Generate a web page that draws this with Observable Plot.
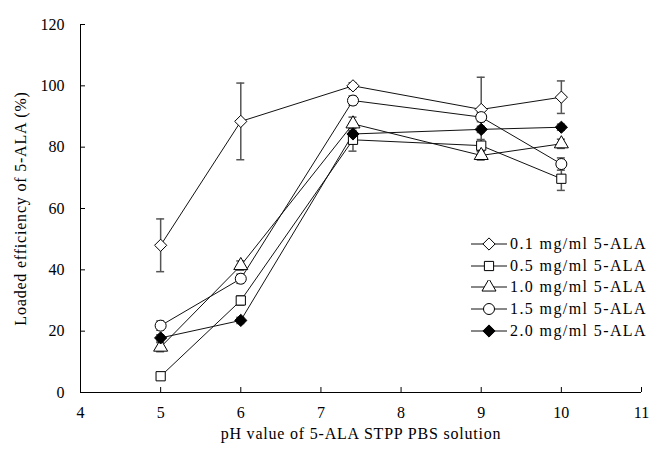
<!DOCTYPE html>
<html>
<head>
<meta charset="utf-8">
<script src="https://cdn.jsdelivr.net/npm/d3@7"></script>
<script src="https://cdn.jsdelivr.net/npm/@observablehq/plot@0.6"></script>
<style>
  html, body { margin: 0; padding: 0; background: #fff; }
  #wrap { position: relative; width: 651px; height: 459px; font-family: "Liberation Serif", serif; }
  #wrap svg text { fill: #000; font-family: "Liberation Serif", serif; }
  g[aria-label="text"] text { letter-spacing: 0.8px; }
  #legend { position: absolute; left: 471px; top: 233px; font-size: 16px; letter-spacing: 1.4px; color: #000; font-family: "Liberation Serif", serif; }
  #legend .row { display: flex; align-items: center; height: 21.7px; white-space: nowrap; }
  #legend svg { display: block; margin-right: 3px; }
</style>
</head>
<body>
<div id="wrap"></div>
<script>
// ---- data ----
const pH = [5, 6, 7.4, 9, 10];
const seriesNames = ["0.1 mg/ml 5-ALA", "0.5 mg/ml 5-ALA", "1.0 mg/ml 5-ALA", "1.5 mg/ml 5-ALA", "2.0 mg/ml 5-ALA"];
const eff01 = [48.0, 88.4, 100.0, 92.3, 96.3];
const err01 = [8.6, 12.5, 1.0, 10.5, 5.3];
const eff05 = [5.3, 30.0, 82.4, 80.5, 69.7];
const err05 = [1.0, 1.5, 3.7, 2.0, 3.8];
const eff10 = [14.8, 41.4, 87.6, 77.3, 81.1];
const err10 = [1.5, 1.5, 2.2, 1.5, 1.5];
const eff15 = [21.8, 37.1, 95.2, 89.8, 74.5];
const err15 = [1.5, 1.5, 1.5, 1.5, 2.0];
const eff20 = [17.8, 23.5, 84.3, 85.8, 86.5];
const err20 = [1.0, 1.0, 1.0, 1.0, 1.0];
const xTicks = [4, 5, 6, 7, 8, 9, 10, 11];
const yTicks = [0, 20, 40, 60, 80, 100, 120];
const xTitle = "pH value of 5-ALA STPP PBS solution";
const yTitle = "Loaded efficiency of 5-ALA (%)";

// styles (not data)
const symbols = ["diamond2", "square", "triangle", "circle", "diamond2"];
const fills = ["white", "white", "white", "white", "black"];
const symR = [5.5, 5.2, 5.2, 5.5, 5.5];

const effs = [eff01, eff05, eff10, eff15, eff20];
const errs = [err01, err05, err10, err15, err20];
const rows = [];
seriesNames.forEach((s, i) => pH.forEach((x, j) => rows.push({
  series: s, idx: i, x, y: effs[i][j], lo: effs[i][j] - errs[i][j], hi: effs[i][j] + errs[i][j]
})));

const fmt = d3.format("d");
const marks = [
  // axis lines
  Plot.ruleX([xTicks[0]], {stroke: "#000", strokeWidth: 1}),
  Plot.ruleY([yTicks[0]], {stroke: "#000", strokeWidth: 1}),
  // inward tick marks
  Plot.axisY({ticks: yTicks, tickSize: 5, dx: 5, text: null, label: null}),
  Plot.axisX({ticks: xTicks, tickSize: 5, dy: -5, text: null, label: null}),
  // tick labels
  Plot.axisY({ticks: yTicks, tickSize: 0, tickPadding: 16, tickFormat: fmt, label: null, fontSize: 16}),
  Plot.axisX({ticks: xTicks, tickSize: 0, tickPadding: 14, tickFormat: fmt, label: null, fontSize: 16}),
  // axis titles
  Plot.text([xTitle], {frameAnchor: "bottom", dy: 46, fontSize: 16}),
  Plot.text([yTitle], {frameAnchor: "left", textAnchor: "middle", rotate: -90, dx: -60, fontSize: 16}),
  // error bars
  Plot.ruleX(rows, {x: "x", y1: "lo", y2: "hi", stroke: "#555", strokeWidth: 1.5}),
  Plot.ruleY(rows, {y: "hi", x1: "x", x2: "x", insetLeft: -4, insetRight: -4, stroke: "#555", strokeWidth: 1.5}),
  Plot.ruleY(rows, {y: "lo", x1: "x", x2: "x", insetLeft: -4, insetRight: -4, stroke: "#555", strokeWidth: 1.5}),
  // lines
  Plot.line(rows, {x: "x", y: "y", z: "series", stroke: "#111", strokeWidth: 1})
];
seriesNames.forEach((s, i) => {
  marks.push(Plot.dot(rows.filter(d => d.idx === i), {
    x: "x", y: "y", symbol: () => symbols[i], r: symR[i],
    fill: fills[i], stroke: "#000", strokeWidth: 1
  }));
});

const chart = Plot.plot({
  width: 651, height: 459,
  marginLeft: 80, marginRight: 10, marginTop: 24, marginBottom: 67,
  x: {domain: [4, 11]},
  y: {domain: [0, 120]},
  symbol: {type: "identity"},
  style: {fontFamily: "Liberation Serif, serif", fontSize: "16px", background: "white", color: "#000"},
  marks
});
const wrap = document.getElementById("wrap");
wrap.appendChild(chart);

// legend (HTML overlay)
const legend = document.createElement("div");
legend.id = "legend";
const d3sym = {diamond2: d3.symbolDiamond2, square: d3.symbolSquare, triangle: d3.symbolTriangle, circle: d3.symbolCircle};
seriesNames.forEach((s, i) => {
  const row = document.createElement("div");
  row.className = "row";
  const path = d3.symbol(d3sym[symbols[i]], Math.PI * symR[i] * symR[i])();
  row.innerHTML = `<svg width="36" height="14" viewBox="0 0 36 14">
    <line x1="0" x2="36" y1="7" y2="7" stroke="#111" stroke-width="1"/>
    <path d="${path}" transform="translate(18,7)" fill="${fills[i]}" stroke="#000" stroke-width="1"/>
  </svg><span>${s}</span>`;
  legend.appendChild(row);
});
wrap.appendChild(legend);
</script>
</body>
</html>
